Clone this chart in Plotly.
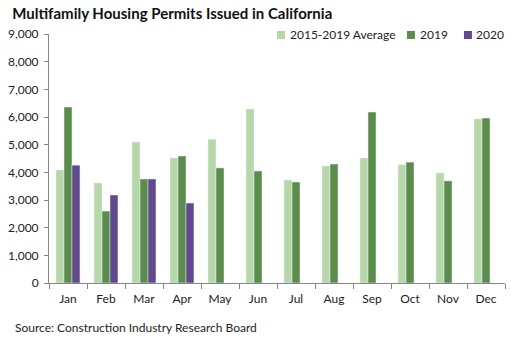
import plotly.graph_objects as go

months = ["Jan", "Feb", "Mar", "Apr", "May", "Jun", "Jul", "Aug", "Sep", "Oct", "Nov", "Dec"]
avg_2015_2019 = [4080, 3610, 5100, 4520, 5200, 6290, 3720, 4230, 4520, 4270, 3980, 5930]
y2019 = [6360, 2600, 3760, 4590, 4160, 4050, 3650, 4300, 6180, 4370, 3690, 5960]
y2020 = [4260, 3180, 3760, 2890, None, None, None, None, None, None, None, None]

series_names = ["2015-2019 Average", "2019", "2020"]
series_colors = ["#b6d7a8", "#5b8c4b", "#604a8c"]
series_values = [avg_2015_2019, y2019, y2020]

FONT = "Lato"

fig = go.Figure()
for name, color, vals in zip(series_names, series_colors, series_values):
    fig.add_trace(go.Bar(x=months, y=vals, name=name, marker_color=color, showlegend=False))

fig.update_layout(
    width=511, height=344,
    margin=dict(l=49, r=6, t=34, b=61),
    paper_bgcolor="white", plot_bgcolor="white",
    font=dict(family=FONT, size=12, color="#222222"),
    barmode="group", bargap=0.37, bargroupgap=0,
    title=dict(text="<b>Multifamily Housing Permits Issued in California</b>",
               x=0.024, xanchor="left", y=0.96, yanchor="middle",
               font=dict(family=FONT, size=15, color="#111111")),
)
fig.update_xaxes(showline=True, linecolor="#868686", linewidth=1, ticks="outside",
                 tickson="boundaries", ticklen=5, tickcolor="#868686", showgrid=False,
                 tickfont=dict(size=12), ticklabelstandoff=5)
fig.update_yaxes(range=[0, 9000], dtick=1000, tickformat=",", showline=True,
                 linecolor="#868686", linewidth=1, ticks="outside", ticklen=4,
                 tickcolor="#868686", showgrid=False, zeroline=False,
                 tickfont=dict(size=12), ticklabelstandoff=3)

# custom legend (swatch + label), positioned in paper coordinates
legend_sq_x = [0.500, 0.785, 0.910]
legend_txt_x = [0.524, 0.809, 0.933]
for name, color, sx, tx in zip(series_names, series_colors, legend_sq_x, legend_txt_x):
    fig.add_shape(type="rect", xref="paper", yref="paper", x0=sx, x1=sx + 0.0175,
                  y0=0.98, y1=1.012, fillcolor=color, line=dict(width=0))
    fig.add_annotation(text=name, xref="paper", yref="paper", x=tx, y=0.996,
                       xanchor="left", yanchor="middle", showarrow=False,
                       font=dict(family=FONT, size=12, color="#222222"))

fig.add_annotation(text="Source: Construction Industry Research Board", xref="paper", yref="paper",
                   x=-0.079, y=-0.177, xanchor="left", yanchor="middle", showarrow=False,
                   font=dict(family=FONT, size=12, color="#222222"))

fig.write_html("out.html")
